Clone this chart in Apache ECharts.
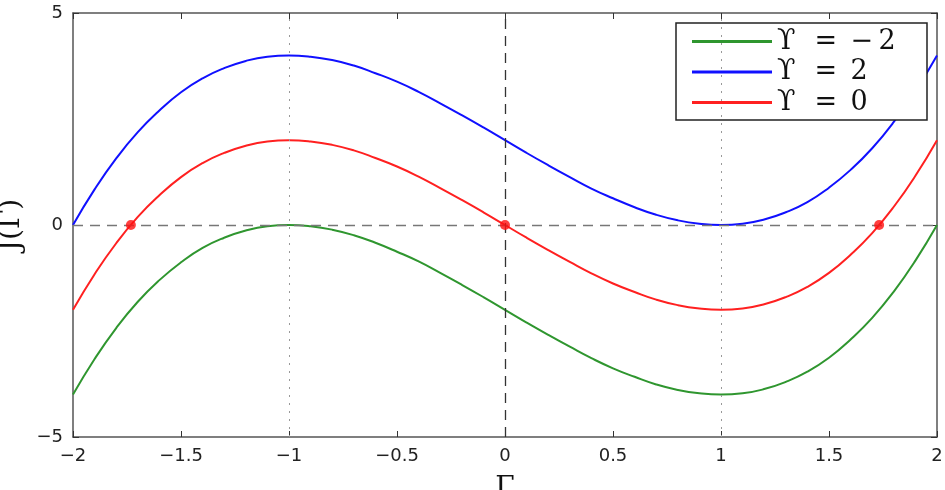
<!DOCTYPE html>
<html>
<head>
<meta charset="utf-8">
<script src="https://cdn.jsdelivr.net/npm/echarts@6/dist/echarts.min.js"></script>
<style>
  html, body { margin: 0; padding: 0; background: #fff; }
  #chart { width: 945px; height: 490px; }
</style>
</head>
<body>
<div id="chart"></div>
<script>
// Γ samples, step 0.1
const gammaValues = [-2, -1.9, -1.8, -1.7, -1.6, -1.5, -1.4, -1.3, -1.2, -1.1, -1, -0.9, -0.8, -0.7, -0.6, -0.5, -0.4, -0.3, -0.2, -0.1, 0,
  0.1, 0.2, 0.3, 0.4, 0.5, 0.6, 0.7, 0.8, 0.9, 1, 1.1, 1.2, 1.3, 1.4, 1.5, 1.6, 1.7, 1.8, 1.9, 2];

const jMinus2 = [-4, -3.16, -2.43, -1.81, -1.3, -0.88, -0.54, -0.3, -0.13, -0.03, 0, -0.03, -0.11, -0.24, -0.42, -0.63, -0.86, -1.13, -1.41, -1.7, -2,
  -2.3, -2.59, -2.87, -3.14, -3.38, -3.58, -3.76, -3.89, -3.97, -4, -3.97, -3.87, -3.7, -3.46, -3.13, -2.7, -2.19, -1.57, -0.84, 0];

const jPlus2 = [0, 0.84, 1.57, 2.19, 2.7, 3.13, 3.46, 3.7, 3.87, 3.97, 4, 3.97, 3.89, 3.76, 3.58, 3.38, 3.14, 2.87, 2.59, 2.3, 2,
  1.7, 1.41, 1.13, 0.86, 0.63, 0.42, 0.24, 0.11, 0.03, 0, 0.03, 0.13, 0.3, 0.54, 0.88, 1.3, 1.81, 2.43, 3.16, 4];

const jZero = [-2, -1.16, -0.43, 0.19, 0.7, 1.13, 1.46, 1.7, 1.87, 1.97, 2, 1.97, 1.89, 1.76, 1.58, 1.38, 1.14, 0.87, 0.59, 0.3, 0,
  -0.3, -0.59, -0.87, -1.14, -1.38, -1.58, -1.76, -1.89, -1.97, -2, -1.97, -1.87, -1.7, -1.46, -1.13, -0.7, -0.19, 0.43, 1.16, 2];

const rootPoints = [[-1.732, 0], [0, 0], [1.732, 0]];
const dottedX = [-1, 1];
// legend labels (curly upsilon, LaTeX-like spacing)
const seriesNames = ['\u03D2\u2002\u2009=\u2002\u2212\u20092', '\u03D2\u2002\u2009=\u20022', '\u03D2\u2002\u2009=\u20020'];

const pair = ys => gammaValues.map((x, i) => [x, ys[i]]);

const chart = echarts.init(document.getElementById('chart'), null, { renderer: 'canvas' });

const axisGray = '#555';
const tickFont = { fontFamily: 'DejaVu Sans', fontSize: 18, color: '#222' };
const minus = v => String(v).replace('-', '\u2212');

chart.setOption({
  animation: false,
  backgroundColor: '#fff',
  grid: { left: 73, right: 8, top: 13, bottom: 53, containLabel: false, outerBoundsMode: 'none' },
  legend: {
    orient: 'vertical',
    right: 18,
    top: 23,
    itemWidth: 80,
    itemHeight: 3,
    itemGap: 3.5,
    padding: [5, 19, 4, 16],
    borderColor: '#222',
    borderWidth: 1.5,
    backgroundColor: '#fff',
    icon: 'rect',
    textStyle: { fontFamily: 'DejaVu Serif', fontSize: 27, lineHeight: 26, width: 131, color: '#111' },
    data: seriesNames
  },
  xAxis: [{
    type: 'value', min: -2, max: 2, interval: 0.5,
    name: '\u0393', nameLocation: 'middle', nameGap: 38,
    nameTextStyle: { fontFamily: 'DejaVu Serif', fontSize: 28, color: '#111' },
    axisLine: { onZero: false, lineStyle: { color: axisGray, width: 1.5 } },
    axisTick: { inside: true, length: 6, lineStyle: { color: '#333' } },
    axisLabel: Object.assign({ margin: 10, formatter: minus }, tickFont),
    splitLine: { show: false }
  }, {
    type: 'value', min: -2, max: 2, interval: 0.5, position: 'top',
    axisLine: { onZero: false, lineStyle: { color: axisGray, width: 1.5 } },
    axisTick: { inside: true, length: 6, lineStyle: { color: '#333' } },
    axisLabel: { show: false },
    splitLine: { show: false }
  }],
  yAxis: [{
    type: 'value', min: -5, max: 5, interval: 5,
    name: 'J(\u0393)', nameLocation: 'middle', nameGap: 35,
    nameTextStyle: { fontFamily: 'DejaVu Serif', fontSize: 28, color: '#111' },
    axisLine: { onZero: false, lineStyle: { color: axisGray, width: 1.5 } },
    axisTick: { inside: true, length: 6, lineStyle: { color: '#333' } },
    axisLabel: Object.assign({ margin: 10, formatter: minus }, tickFont),
    splitLine: { show: false }
  }, {
    type: 'value', min: -5, max: 5, interval: 5, position: 'right',
    axisLine: { onZero: false, lineStyle: { color: axisGray, width: 1.5 } },
    axisTick: { inside: true, length: 6, lineStyle: { color: '#333' } },
    axisLabel: { show: false },
    splitLine: { show: false }
  }],
  series: [
    {
      name: seriesNames[0], type: 'line', smooth: true, symbol: 'none',
      color: '#2f962f', lineStyle: { width: 2 }, z: 3,
      data: pair(jMinus2),
      markLine: {
        silent: true, symbol: 'none', label: { show: false },
        lineStyle: { type: [2, 6], color: '#999', width: 1 },
        data: dottedX.map(x => ({ xAxis: x }))
      }
    },
    {
      name: seriesNames[1], type: 'line', smooth: true, symbol: 'none',
      color: '#1010ff', lineStyle: { width: 2 }, z: 3,
      data: pair(jPlus2),
      markLine: {
        silent: true, symbol: 'none', label: { show: false },
        lineStyle: { type: [10, 7], color: '#777', width: 1.3 },
        data: [{ yAxis: 0 }]
      }
    },
    {
      name: seriesNames[2], type: 'line', smooth: true, symbol: 'none',
      color: '#ff2020', lineStyle: { width: 2 }, z: 3,
      data: pair(jZero),
      markLine: {
        silent: true, symbol: 'none', label: { show: false },
        lineStyle: { type: [10, 7], color: '#333', width: 1.3 },
        data: [{ xAxis: 0 }]
      }
    },
    {
      name: 'roots', type: 'scatter', symbol: 'circle', symbolSize: 10,
      color: '#ff1010', z: 5,
      data: rootPoints
    }
  ]
});
</script>
</body>
</html>
